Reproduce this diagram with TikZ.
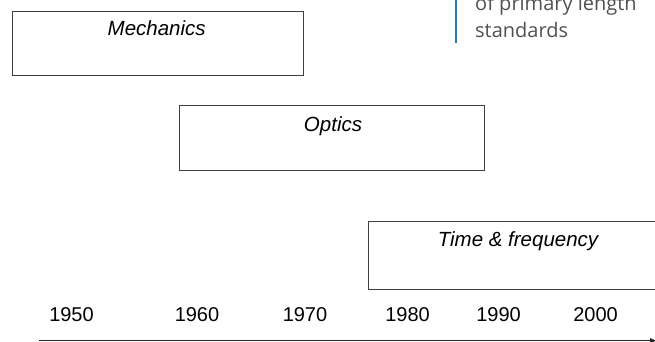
\documentclass[tikz,border=0pt]{standalone}
\usepackage{fontspec}
\setmainfont{Liberation Sans}
\newfontfamily\sidefont{Open Sans}
\usetikzlibrary{arrows.meta}
\definecolor{boxline}{HTML}{404040}
\definecolor{sidegray}{HTML}{505050}
\definecolor{sideblue}{HTML}{2A7AB0}
\begin{document}
\begin{tikzpicture}[x=1pt,y=-1pt,
  era/.style={draw=boxline,line width=1pt},
  eralabel/.style={font=\fontsize{20.5}{22}\selectfont\itshape,anchor=base,inner sep=0pt},
  year/.style={font=\fontsize{20}{22}\selectfont,anchor=base,inner sep=0pt},
  side/.style={font=\sidefont\fontsize{20}{22}\selectfont,text=sidegray,anchor=base west,inner sep=0pt}]
\useasboundingbox (0,0) rectangle (655,342);
% boxes
\node[era,minimum width=291pt,minimum height=64pt,inner sep=0pt] (mech) at (157.5,44) {};
\node[eralabel] (mechl) at (156.7,35.7) {Mechanics};
\node[era,minimum width=305pt,minimum height=64pt,inner sep=0pt] (opt) at (331.5,138) {};
\node[eralabel] (optl) at (333,131) {Optics};
\draw[era] (660,221) -- (368,221) -- (368,289) -- (660,289);
\node[eralabel] (tfl) at (518,246) {Time \& frequency};
% years
\node[year] (y50) at (71.5,321) {1950};
\node[year] (y60) at (197,321) {1960};
\node[year] (y70) at (305,321) {1970};
\node[year] (y80) at (407.5,321) {1980};
\node[year] (y90) at (498.5,321) {1990};
\node[year] (y00) at (595.5,321) {2000};
\coordinate (axs) at (39,340.7);
\coordinate (axe) at (656,340.7);
\draw[line width=1.5pt,black!85,-{Triangle[length=6pt,width=5pt]}] (axs) -- (axe);
% side text
\coordinate (bt) at (456,-1);
\coordinate (bb) at (456,43);
\draw[sideblue,line width=1.5pt] (bt) -- (bb);
\node[side] (s1) at (475,11) {of primary length};
\node[side] (s2) at (475,38) {standards};
\end{tikzpicture}
\end{document}
